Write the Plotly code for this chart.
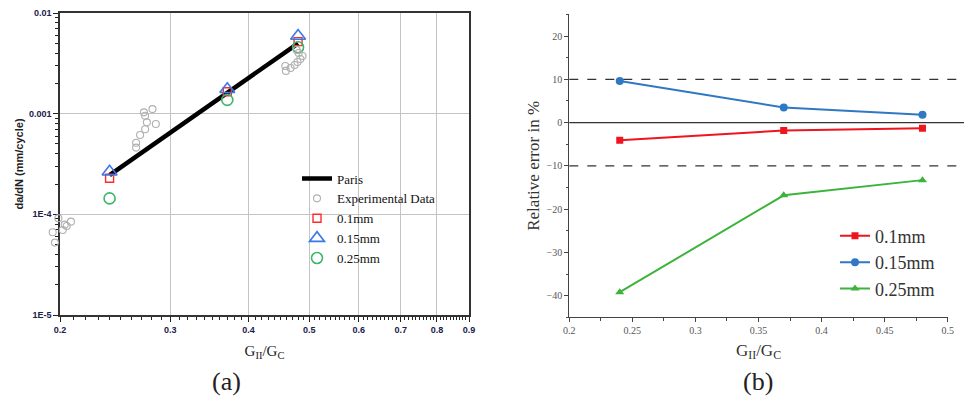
import plotly.graph_objects as go
import numpy as np

# ---------------- Data: panel (a) ----------------
paris_x = [0.24, 0.48]
paris_y = [2.45e-4, 5.0e-3]

exp_x = [0.1988, 0.2082, 0.205, 0.202, 0.1947, 0.1963, 0.2035,
         0.281, 0.2723, 0.2735, 0.2845, 0.2753, 0.2735, 0.2685, 0.2646, 0.2646,
         0.458, 0.459, 0.467, 0.474, 0.479, 0.484, 0.488, 0.481, 0.4775]
exp_y = [9.15e-5, 8.46e-5, 7.67e-5, 7.0e-5, 6.64e-5, 5.24e-5, 7.9e-5,
         1.11e-3, 1.03e-3, 9.55e-4, 7.9e-4, 8.2e-4, 7.0e-4, 6.14e-4, 5.15e-4, 4.6e-4,
         2.98e-3, 2.66e-3, 2.84e-3, 3.04e-3, 3.26e-3, 3.49e-3, 3.74e-3, 4.0e-3, 4.3e-3]

g_ratio = [0.24, 0.37, 0.48]
rate_01 = [2.28e-4, 1.65e-3, 5.19e-3]
rate_015 = [2.65e-4, 1.75e-3, 5.91e-3]
rate_025 = [1.44e-4, 1.37e-3, 4.57e-3]

a_xticks = [0.2, 0.3, 0.4, 0.5, 0.6, 0.7, 0.8, 0.9]
a_xlabels = ["0.2", "0.3", "0.4", "0.5", "0.6", "0.7", "0.8", "0.9"]
a_yticks = [1e-2, 1e-3, 1e-4, 1e-5]
a_ylabels = ["0.01", "0.001", "1E-4", "1E-5"]

# ---------------- Data: panel (b) ----------------
err_01 = [-4.1, -1.85, -1.3]
err_015 = [9.6, 3.5, 1.8]
err_025 = [-39.2, -16.8, -13.3]
b_xticks = [0.2, 0.25, 0.3, 0.35, 0.4, 0.45, 0.5]
b_xlabels = ["0.2", "0.25", "0.3", "0.35", "0.4", "0.45", "0.5"]
b_yticks = [20, 10, 0, -10, -20, -30, -40]

serif = "Liberation Serif"
sans = "Liberation Sans"

# page shows the figure offset by the body margin; map reference pixels to paper
OFF = 8
W, H = 972 - OFF, 401 - OFF


def px(x):
    return (x - OFF) / W


def py(y):
    return 1 - (y - OFF) / H


# panel (a) x axis geometry (log)
A_X0, A_X1 = 60, 469
a_xrange = [np.log10(0.2), np.log10(0.9)]
a_ppd = (A_X1 - A_X0) / (a_xrange[1] - a_xrange[0])  # pixels per decade
# twin (invisible) axis, extended to the left so points below 0.2 stay visible
A_XEXT = 22
a_xrange_ext = [a_xrange[0] - A_XEXT / a_ppd, a_xrange[1]]

fig = go.Figure()

# ----- panel (a) traces -----
fig.add_trace(go.Scatter(x=exp_x, y=exp_y, mode="markers", name="Experimental Data",
                         marker=dict(symbol="circle-open", size=7, color="#b0b0b0",
                                     line=dict(width=1.1, color="#b0b0b0")),
                         xaxis="x3", yaxis="y3", legend="legend", legendrank=2))
fig.add_trace(go.Scatter(x=paris_x, y=paris_y, mode="lines", name="Paris",
                         line=dict(color="black", width=4.5),
                         xaxis="x", yaxis="y", legend="legend", legendrank=1))
fig.add_trace(go.Scatter(x=g_ratio, y=rate_01, mode="markers", name="0.1mm",
                         marker=dict(symbol="square-open", size=8, color="#ff2a2a",
                                     line=dict(width=1.4, color="#ff2a2a")),
                         xaxis="x", yaxis="y", legend="legend", legendrank=3))
fig.add_trace(go.Scatter(x=g_ratio, y=rate_015, mode="markers", name="0.15mm",
                         marker=dict(symbol="triangle-up-open", size=13, color="#3a78e8",
                                     line=dict(width=1.6, color="#3a78e8")),
                         xaxis="x", yaxis="y", legend="legend", legendrank=4))
fig.add_trace(go.Scatter(x=g_ratio, y=rate_025, mode="markers", name="0.25mm",
                         marker=dict(symbol="circle-open", size=11, color="#3db56a",
                                     line=dict(width=1.6, color="#3db56a")),
                         xaxis="x", yaxis="y", legend="legend", legendrank=5))

# ----- panel (b) traces -----
fig.add_trace(go.Scatter(x=g_ratio, y=err_01, mode="lines+markers", name="0.1mm",
                         line=dict(color="#f0141e", width=2),
                         marker=dict(symbol="square", size=7, color="#f0141e"),
                         xaxis="x2", yaxis="y2", legend="legend2"))
fig.add_trace(go.Scatter(x=g_ratio, y=err_015, mode="lines+markers", name="0.15mm",
                         line=dict(color="#2f78c4", width=2),
                         marker=dict(symbol="circle", size=8, color="#2f78c4"),
                         xaxis="x2", yaxis="y2", legend="legend2"))
fig.add_trace(go.Scatter(x=g_ratio, y=err_025, mode="lines+markers", name="0.25mm",
                         line=dict(color="#3cb43c", width=2),
                         marker=dict(symbol="triangle-up", size=8, color="#3cb43c"),
                         xaxis="x2", yaxis="y2", legend="legend2"))

# minor tick positions
a_xminor = [round(v, 4) for v in np.arange(0.2, 0.9001, 0.01) if round(v, 2) not in a_xticks]
a_yminor = [k * 10.0 ** e for e in (-5, -4, -3) for k in range(2, 10)]

a_tickfont = dict(family=sans, size=9, color="#20204a", weight="bold")

fig.update_layout(
    width=W, height=H,
    margin=dict(l=0, r=0, t=0, b=0),
    paper_bgcolor="white", plot_bgcolor="rgba(0,0,0,0)",
    xaxis=dict(
        type="log", domain=[px(A_X0), px(A_X1)],
        range=a_xrange,
        tickvals=a_xticks, ticktext=a_xlabels, tickfont=a_tickfont,
        ticks="outside", ticklen=5, tickwidth=1.2, tickcolor="#222",
        showline=True, mirror=True, linecolor="#333", linewidth=1.5,
        showgrid=True, gridcolor="#c4c4c4", gridwidth=1,
        minor=dict(tickvals=a_xminor, ticks="outside", ticklen=3, tickcolor="#222",
                   showgrid=False),
        zeroline=False, automargin=False,
        title=dict(text="G<sub>II</sub>/G<sub>C</sub>",
                   font=dict(family=serif, size=15, color="#222"), standoff=12),
        anchor="y",
    ),
    yaxis=dict(
        type="log", domain=[py(315), py(13)],
        range=[-5, -2],
        tickvals=a_yticks, ticktext=a_ylabels, tickfont=a_tickfont,
        ticks="outside", ticklen=5, tickwidth=1.2, tickcolor="#222",
        showline=True, mirror=True, linecolor="#333", linewidth=1.5,
        showgrid=True, gridcolor="#c4c4c4", gridwidth=1,
        minor=dict(tickvals=a_yminor, ticks="outside", ticklen=3, tickcolor="#222",
                   showgrid=False),
        zeroline=False, automargin=False,
        title=dict(text="da/dN (mm/cycle)",
                   font=dict(family=sans, size=11, color="#222", weight="bold"), standoff=3),
        anchor="x",
    ),
    xaxis3=dict(
        type="log", domain=[px(A_X0 - A_XEXT), px(A_X1)], range=a_xrange_ext,
        visible=False, anchor="y3",
    ),
    yaxis3=dict(
        type="log", domain=[py(315), py(13)], range=[-5, -2],
        visible=False, anchor="x3",
    ),
    xaxis2=dict(
        domain=[px(569.3), px(947.7)], range=[0.2, 0.5],
        tickvals=b_xticks, ticktext=b_xlabels,
        tickfont=dict(family=serif, size=10, color="#555"),
        ticks="outside", ticklen=4, tickwidth=1, tickcolor="#444",
        minor=dict(dtick=0.025, tick0=0.2, ticks="outside", ticklen=2.5, tickcolor="#444"),
        showline=True, linecolor="#444", linewidth=1.3, mirror=False,
        showgrid=False, zeroline=False, automargin=False,
        title=dict(text="G<sub>II</sub>/G<sub>C</sub>",
                   font=dict(family=serif, size=17, color="#333"), standoff=8),
        anchor="y2",
    ),
    yaxis2=dict(
        domain=[py(317.3), py(14.4)], range=[-45, 25],
        tickvals=b_yticks,
        tickfont=dict(family=serif, size=10, color="#555"),
        ticks="outside", ticklen=4, tickwidth=1, tickcolor="#444",
        minor=dict(dtick=5, tick0=0, ticks="outside", ticklen=2.5, tickcolor="#444"),
        showline=True, linecolor="#444", linewidth=1.3, mirror=False,
        showgrid=False, zeroline=False, automargin=False,
        title=dict(text="Relative error in %",
                   font=dict(family=serif, size=17, color="#333"), standoff=2),
        anchor="x2",
    ),
    legend=dict(
        x=px(297), y=py(163.5), xanchor="left", yanchor="top",
        bgcolor="rgba(0,0,0,0)", borderwidth=0,
        font=dict(family=serif, size=13, color="#111"),
        tracegroupgap=0, itemwidth=30, traceorder="normal",
    ),
    legend2=dict(
        x=px(835), y=py(217.6), xanchor="left", yanchor="top",
        bgcolor="rgba(0,0,0,0)", borderwidth=0,
        font=dict(family=serif, size=18, color="#333"),
        tracegroupgap=0,
    ),
    shapes=[
        dict(type="line", xref="paper", yref="y2", x0=px(569.3), x1=1.0, y0=10, y1=10,
             line=dict(color="#333", width=1.3, dash="dash")),
        dict(type="line", xref="paper", yref="y2", x0=px(569.3), x1=1.0, y0=-10, y1=-10,
             line=dict(color="#333", width=1.3, dash="dash")),
        dict(type="line", xref="paper", yref="y2", x0=px(569.3), x1=1.0, y0=0, y1=0,
             line=dict(color="#333", width=1.2)),
    ],
    annotations=[
        dict(text="(a)", x=px(226), y=py(381), xref="paper", yref="paper",
             showarrow=False, font=dict(family=serif, size=26, color="#222"),
             xanchor="center", yanchor="middle"),
        dict(text="(b)", x=px(758), y=py(381), xref="paper", yref="paper",
             showarrow=False, font=dict(family=serif, size=26, color="#222"),
             xanchor="center", yanchor="middle"),
    ],
)

fig.write_html("out.html")
